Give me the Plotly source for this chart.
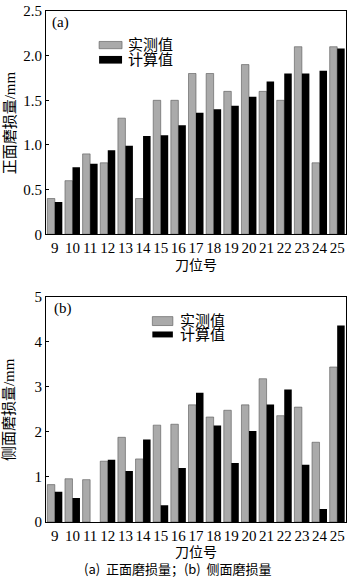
import plotly.graph_objects as go

# Tool positions and wear data
positions = list(range(9, 26))

# (a) front wear, mm
front_measured = [0.40, 0.60, 0.90, 0.80, 1.30, 0.40, 1.50, 1.50, 1.80, 1.80, 1.60, 1.90, 1.60, 1.50, 2.10, 0.80, 2.10]
front_calculated = [0.36, 0.75, 0.79, 0.94, 0.99, 1.10, 1.11, 1.22, 1.36, 1.40, 1.44, 1.54, 1.71, 1.80, 1.80, 1.83, 2.08]

# (b) side wear, mm
side_measured = [0.83, 0.96, 0.94, 1.35, 1.88, 1.40, 2.15, 2.17, 2.60, 2.33, 2.48, 2.60, 3.18, 2.36, 2.55, 1.77, 3.44]
side_calculated = [0.67, 0.53, 0.00, 1.38, 1.13, 1.83, 0.37, 1.20, 2.87, 2.14, 1.31, 2.02, 2.61, 2.94, 1.27, 0.29, 4.36]

front_ticks = [0, 0.5, 1.0, 1.5, 2.0, 2.5]
front_ticktext = ["0", "0.5", "1.0", "1.5", "2.0", "2.5"]
side_ticks = [0, 1, 2, 3, 4, 5]
side_ticktext = ["0", "1", "2", "3", "4", "5"]

series_names = ["实测值", "计算值"]

GRAY = "#aaaaaa"
BLACK = "#000000"
SERIF = "'Liberation Serif', 'Times New Roman', 'DejaVu Serif', 'Noto Sans CJK SC', serif"
CJK = "'Noto Sans CJK SC', 'Liberation Sans', sans-serif"

fig = go.Figure()

for xa, ya, meas, calc in [("x", "y", front_measured, front_calculated),
                           ("x2", "y2", side_measured, side_calculated)]:
    fig.add_trace(go.Bar(x=positions, y=meas, name=series_names[0], xaxis=xa, yaxis=ya,
                         marker=dict(color=GRAY, line=dict(color="#555555", width=0.6)),
                         showlegend=False))
    fig.add_trace(go.Bar(x=positions, y=calc, name=series_names[1], xaxis=xa, yaxis=ya,
                         marker=dict(color=BLACK, line=dict(color=BLACK, width=0)),
                         showlegend=False))

axis_common = dict(showline=True, linecolor="black", linewidth=1, mirror=True,
                   showgrid=False, zeroline=False,
                   tickfont=dict(family=SERIF, size=15, color="black"))

fig.update_layout(
    width=350, height=579,
    margin=dict(l=46, r=3, t=7, b=57),
    paper_bgcolor="white", plot_bgcolor="white",
    barmode="group", bargap=0.15, bargroupgap=0,
    xaxis=dict(domain=[0, 1], anchor="y", range=[8.5, 25.5], tickvals=positions,
               ticks="", **axis_common),
    yaxis=dict(domain=[0.5631, 1], anchor="x", range=[0, 2.5], tickvals=front_ticks,
               ticktext=front_ticktext, ticks="inside", ticklen=3, tickcolor="black",
               **axis_common),
    xaxis2=dict(domain=[0, 1], anchor="y2", range=[8.5, 25.5], tickvals=positions,
                ticks="", **axis_common),
    yaxis2=dict(domain=[0, 0.4408], anchor="x2", range=[0, 5], tickvals=side_ticks,
                ticktext=side_ticktext, ticks="inside", ticklen=3, tickcolor="black",
                **axis_common),
)

shapes = []
annotations = []

# Legend boxes drawn inside each panel
legend_specs = [
    # xref, yref, swatch x0, x1, gray y0,y1, black y0,y1, text x, text y gray, text y black
    ("x domain", "y domain", 0.177, 0.2535, (0.8311, 0.8636), (0.7644, 0.7987), 0.266, 0.8533, 0.7853),
    ("x2 domain", "y2 domain", 0.3545, 0.4229, (0.8722, 0.9119), (0.8194, 0.8458), 0.439, 0.8987, 0.8348),
]
for xr, yr, sx0, sx1, gy, by, tx, tyg, tyb in legend_specs:
    shapes.append(dict(type="rect", xref=xr, yref=yr, x0=sx0, x1=sx1, y0=gy[0], y1=gy[1],
                       fillcolor=GRAY, line=dict(color="#555555", width=0.6)))
    shapes.append(dict(type="rect", xref=xr, yref=yr, x0=sx0, x1=sx1, y0=by[0], y1=by[1],
                       fillcolor=BLACK, line=dict(color=BLACK, width=0)))
    annotations.append(dict(xref=xr, yref=yr, x=tx, y=tyg, text=series_names[0],
                            showarrow=False, xanchor="left", yanchor="middle",
                            font=dict(family=CJK, size=15, color="black")))
    annotations.append(dict(xref=xr, yref=yr, x=tx, y=tyb, text=series_names[1],
                            showarrow=False, xanchor="left", yanchor="middle",
                            font=dict(family=CJK, size=15, color="black")))

# Panel tags
annotations.append(dict(xref="x domain", yref="y domain", x=0.013, y=0.947, text="(a)",
                        showarrow=False, xanchor="left", yanchor="middle",
                        font=dict(family=SERIF, size=15, color="black")))
annotations.append(dict(xref="x2 domain", yref="y2 domain", x=0.02, y=0.949, text="(b)",
                        showarrow=False, xanchor="left", yanchor="middle",
                        font=dict(family=SERIF, size=15, color="black")))

# Axis titles
annotations.append(dict(xref="paper", yref="paper", x=-0.121, y=(0.5631 + 1) / 2,
                        text="正面磨损量/mm", textangle=-90, showarrow=False,
                        xanchor="center", yanchor="middle",
                        font=dict(family=SERIF, size=15, color="black")))
annotations.append(dict(xref="paper", yref="paper", x=-0.121, y=0.4408 / 2,
                        text="侧面磨损量/mm", textangle=-90, showarrow=False,
                        xanchor="center", yanchor="middle",
                        font=dict(family=SERIF, size=15, color="black")))
annotations.append(dict(xref="paper", yref="paper", x=0.5, y=0.5048, text="刀位号",
                        showarrow=False, xanchor="center", yanchor="middle",
                        font=dict(family=CJK, size=14, color="black")))
annotations.append(dict(xref="paper", yref="paper", x=0.5, y=-0.0564, text="刀位号",
                        showarrow=False, xanchor="center", yanchor="middle",
                        font=dict(family=CJK, size=14, color="black")))
annotations.append(dict(xref="paper", yref="paper", x=0.4385, y=-0.0903,
                        text="(a)  正面磨损量；(b)  侧面磨损量",
                        showarrow=False, xanchor="center", yanchor="middle",
                        font=dict(family=CJK, size=13, color="black")))

fig.update_layout(shapes=shapes, annotations=annotations)

fig.write_html("out.html")
